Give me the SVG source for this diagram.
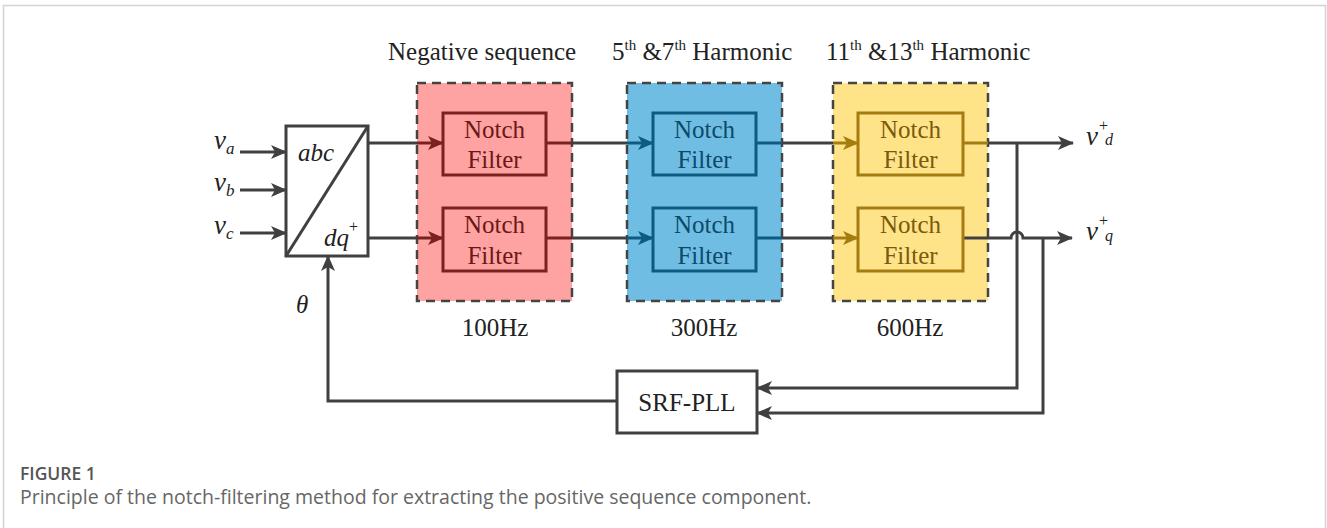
<svg xmlns="http://www.w3.org/2000/svg" width="1327" height="528" viewBox="0 0 1327 528">
<style>
.t{font-family:"Liberation Serif","Times New Roman",serif}
.i{font-style:italic}
.ln{fill:none;stroke:#404040;stroke-width:3}
.dash{stroke:#444;stroke-width:2.5;stroke-dasharray:9 6}
.cap{font-family:"Open Sans","Noto Sans",sans-serif}
</style>
<defs>
<marker id="ag" markerUnits="userSpaceOnUse" markerWidth="16" markerHeight="14" refX="15" refY="7" orient="auto"><path d="M0,0 L16,7 L0,14 L4,7 Z" fill="#404040"/></marker>
<marker id="ar" markerUnits="userSpaceOnUse" markerWidth="16" markerHeight="14" refX="15" refY="7" orient="auto"><path d="M0,0 L16,7 L0,14 L4,7 Z" fill="#7a2222"/></marker>
<marker id="ab" markerUnits="userSpaceOnUse" markerWidth="16" markerHeight="14" refX="15" refY="7" orient="auto"><path d="M0,0 L16,7 L0,14 L4,7 Z" fill="#0e5a80"/></marker>
<marker id="ay" markerUnits="userSpaceOnUse" markerWidth="16" markerHeight="14" refX="15" refY="7" orient="auto"><path d="M0,0 L16,7 L0,14 L4,7 Z" fill="#a57c10"/></marker>
</defs>
<rect width="1327" height="528" fill="#fff"/>
<path d="M3.5,528 V5.5 H1325.5 V528" fill="none" stroke="#d3d3d3" stroke-width="1.5"/>

<!-- headers -->
<g font-size="25" fill="#222">
<text class="t" x="388" y="60">Negative sequence</text>
<text class="t" x="612" y="60">5<tspan font-size="15" dy="-10">th</tspan><tspan dy="10"> &amp;7</tspan><tspan font-size="15" dy="-10">th</tspan><tspan dy="10"> Harmonic</tspan></text>
<text class="t" x="826" y="60">11<tspan font-size="15" dy="-10">th</tspan><tspan dy="10"> &amp;13</tspan><tspan font-size="15" dy="-10">th</tspan><tspan dy="10"> Harmonic</tspan></text>
</g>

<!-- stage regions -->
<g id="stage-neg">
<rect x="417" y="83" width="155" height="218" fill="#fea2a2"/>
<rect x="417" y="83" width="155" height="218" fill="none" class="dash"/>
<text class="t" x="495" y="336" text-anchor="middle" font-size="25" fill="#222">100Hz</text>
</g>
<g id="stage-57">
<rect x="627" y="83" width="155" height="218" fill="#70bde4"/>
<rect x="627" y="83" width="155" height="218" fill="none" class="dash"/>
<text class="t" x="704" y="336" text-anchor="middle" font-size="25" fill="#222">300Hz</text>
</g>
<g id="stage-1113">
<rect x="833" y="83" width="155" height="218" fill="#ffe389"/>
<rect x="833" y="83" width="155" height="218" fill="none" class="dash"/>
<text class="t" x="910" y="336" text-anchor="middle" font-size="25" fill="#222">600Hz</text>
</g>

<!-- connectors -->
<g id="connectors">
<line class="ln" x1="240" y1="152" x2="286" y2="152" marker-end="url(#ag)"/>
<line class="ln" x1="240" y1="190" x2="286" y2="190" marker-end="url(#ag)"/>
<line class="ln" x1="240" y1="233" x2="286" y2="233" marker-end="url(#ag)"/>
<line class="ln" x1="368" y1="143" x2="417" y2="143"/>
<line x1="417" y1="143" x2="443" y2="143" stroke="#7a2222" stroke-width="3" marker-end="url(#ar)"/>
<line x1="546" y1="143" x2="572" y2="143" stroke="#7a2222" stroke-width="3"/>
<line class="ln" x1="572" y1="143" x2="627" y2="143"/>
<line x1="627" y1="143" x2="653" y2="143" stroke="#0e5a80" stroke-width="3" marker-end="url(#ab)"/>
<line x1="756" y1="143" x2="782" y2="143" stroke="#0e5a80" stroke-width="3"/>
<line class="ln" x1="782" y1="143" x2="833" y2="143"/>
<line x1="833" y1="143" x2="858" y2="143" stroke="#a57c10" stroke-width="3" marker-end="url(#ay)"/>
<line x1="963" y1="143" x2="988" y2="143" stroke="#a57c10" stroke-width="3"/>
<line class="ln" x1="988" y1="143" x2="1073" y2="143" marker-end="url(#ag)"/>
<line class="ln" x1="368" y1="238" x2="417" y2="238"/>
<line x1="417" y1="238" x2="443" y2="238" stroke="#7a2222" stroke-width="3" marker-end="url(#ar)"/>
<line x1="546" y1="238" x2="572" y2="238" stroke="#7a2222" stroke-width="3"/>
<line class="ln" x1="572" y1="238" x2="627" y2="238"/>
<line x1="627" y1="238" x2="653" y2="238" stroke="#0e5a80" stroke-width="3" marker-end="url(#ab)"/>
<line x1="756" y1="238" x2="782" y2="238" stroke="#0e5a80" stroke-width="3"/>
<line class="ln" x1="782" y1="238" x2="833" y2="238"/>
<line x1="833" y1="238" x2="858" y2="238" stroke="#a57c10" stroke-width="3" marker-end="url(#ay)"/>
<path class="ln" d="M963,238 H1011 A6,6 0 0 1 1023,238 H1072" marker-end="url(#ag)"/>
<path class="ln" d="M1017,143 V388 H757" marker-end="url(#ag)"/>
<path class="ln" d="M1043,238 V413 H757" marker-end="url(#ag)"/>
<path class="ln" d="M617,401 H328 V256" marker-end="url(#ag)"/>
</g>

<!-- transform block -->
<g id="abc-dq" fill="#222">
<rect x="286" y="126" width="82" height="130" fill="#fff" stroke="#404040" stroke-width="3"/>
<line x1="286" y1="256" x2="368" y2="126" stroke="#404040" stroke-width="3"/>
<text class="t i" x="298" y="161" font-size="25">abc</text>
<text class="t i" x="324" y="246" font-size="25">dq<tspan font-size="16" dy="-14" font-style="normal">+</tspan></text>
</g>

<!-- input labels -->
<g id="inputs" fill="#222">
<text class="t i" x="214" y="149" font-size="27">v<tspan font-size="17" dy="5">a</tspan></text>
<text class="t i" x="214" y="191" font-size="27">v<tspan font-size="17" dy="5">b</tspan></text>
<text class="t i" x="214" y="234" font-size="27">v<tspan font-size="17" dy="5">c</tspan></text>
<text class="t i" x="296" y="313" font-size="25">θ</text>
</g>

<!-- notch filters -->
<g id="nf-neg-d" font-size="25" fill="#6a1818"><rect x="443" y="113" width="103" height="62" fill="none" stroke="#7a2222" stroke-width="3"/><text class="t" x="494.5" y="138" text-anchor="middle">Notch</text><text class="t" x="494.5" y="168" text-anchor="middle">Filter</text></g>
<g id="nf-neg-q" font-size="25" fill="#6a1818"><rect x="443" y="208" width="103" height="63" fill="none" stroke="#7a2222" stroke-width="3"/><text class="t" x="494.5" y="233" text-anchor="middle">Notch</text><text class="t" x="494.5" y="264" text-anchor="middle">Filter</text></g>
<g id="nf-57-d" font-size="25" fill="#0c4a6a"><rect x="653" y="113" width="103" height="62" fill="none" stroke="#0e5a80" stroke-width="3"/><text class="t" x="704.5" y="138" text-anchor="middle">Notch</text><text class="t" x="704.5" y="168" text-anchor="middle">Filter</text></g>
<g id="nf-57-q" font-size="25" fill="#0c4a6a"><rect x="653" y="208" width="103" height="63" fill="none" stroke="#0e5a80" stroke-width="3"/><text class="t" x="704.5" y="233" text-anchor="middle">Notch</text><text class="t" x="704.5" y="264" text-anchor="middle">Filter</text></g>
<g id="nf-1113-d" font-size="25" fill="#7a5a0c"><rect x="858" y="113" width="105" height="62" fill="none" stroke="#a57c10" stroke-width="3"/><text class="t" x="910.5" y="138" text-anchor="middle">Notch</text><text class="t" x="910.5" y="168" text-anchor="middle">Filter</text></g>
<g id="nf-1113-q" font-size="25" fill="#7a5a0c"><rect x="858" y="208" width="105" height="63" fill="none" stroke="#a57c10" stroke-width="3"/><text class="t" x="910.5" y="233" text-anchor="middle">Notch</text><text class="t" x="910.5" y="264" text-anchor="middle">Filter</text></g>

<!-- outputs -->
<g id="outputs" fill="#222">
<text class="t i" x="1086" y="145" font-size="27">v</text><text class="t" x="1099" y="131" font-size="16">+</text><text class="t i" x="1105" y="145" font-size="16">d</text>
<text class="t i" x="1086" y="240" font-size="27">v</text><text class="t" x="1099" y="226" font-size="16">+</text><text class="t i" x="1105" y="241" font-size="16">q</text>
</g>

<!-- PLL -->
<g id="srf-pll">
<rect x="617" y="371" width="140" height="62" fill="#fff" stroke="#404040" stroke-width="3"/>
<text class="t" x="687" y="411" text-anchor="middle" font-size="25" fill="#222">SRF-PLL</text>
</g>

<!-- caption -->
<g id="caption">
<text class="cap" x="20" y="480" font-size="17.5" font-weight="600" fill="#555">FIGURE 1</text>
<text class="cap" x="20" y="504" font-size="19.5" fill="#666">Principle of the notch-filtering method for extracting the positive sequence component.</text>
</g>
</svg>
